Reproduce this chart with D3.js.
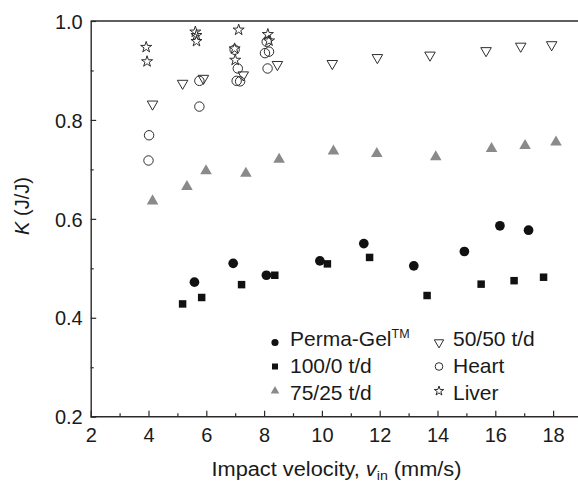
<!DOCTYPE html>
<html>
<head>
<meta charset="utf-8">
<script src="https://cdn.jsdelivr.net/npm/d3@7"></script>
<style>
  html, body { margin: 0; padding: 0; background: #fff; }
  svg { display: block; }
  text { font-family: Arial, "Liberation Sans", Helvetica, sans-serif; fill: #1a1a1a; }
</style>
</head>
<body>
<svg id="chart" width="578" height="483"></svg>
<script>
// ---------- data ----------
const permaX = [5.59, 6.93, 8.08, 9.93, 11.45, 13.18, 14.93, 16.16, 17.15];
const permaK = [0.472, 0.510, 0.486, 0.515, 0.550, 0.505, 0.534, 0.586, 0.577];

const d100X = [5.18, 5.84, 7.22, 8.37, 10.19, 11.65, 13.64, 15.51, 16.65, 17.67];
const d100K = [0.428, 0.441, 0.467, 0.486, 0.509, 0.522, 0.445, 0.468, 0.475, 0.482];

const d7525X = [4.14, 5.33, 5.99, 7.37, 8.52, 10.40, 11.90, 13.94, 15.87, 17.03, 18.10];
const d7525K = [0.636, 0.665, 0.697, 0.692, 0.720, 0.737, 0.732, 0.725, 0.742, 0.748, 0.755];

const d5050X = [4.14, 5.18, 5.90, 7.28, 8.46, 10.36, 11.92, 13.74, 15.68, 16.88, 17.95];
const d5050K = [0.832, 0.874, 0.884, 0.891, 0.912, 0.914, 0.926, 0.931, 0.940, 0.949, 0.952];

const heartX = [4.02, 4.00, 5.76, 5.76, 7.09, 7.05, 7.17, 6.98, 8.03, 8.17, 8.12, 8.09];
const heartK = [0.769, 0.718, 0.879, 0.827, 0.904, 0.879, 0.878, 0.942, 0.935, 0.938, 0.904, 0.958];

const liverX = [3.92, 3.95, 5.62, 5.66, 5.66, 7.12, 6.98, 7.00, 8.13, 8.17];
const liverK = [0.947, 0.918, 0.978, 0.971, 0.959, 0.982, 0.944, 0.921, 0.973, 0.960];

const xMajorTicks = [2, 4, 6, 8, 10, 12, 14, 16, 18];
const xMinorTicks = [3, 5, 7, 9, 11, 13, 15, 17, 19];
const yMajorTicks = [0.2, 0.4, 0.6, 0.8, 1.0];
const yMinorTicks = [0.3, 0.5, 0.7, 0.9];

// ---------- layout ----------
const svg = d3.select("#chart");
const mLeft = 90.7, mRight = 582, mTop = 21, mBottom = 416.7;
const x = d3.scaleLinear().domain([2, 19]).range([mLeft, mRight]);
const y = d3.scaleLinear().domain([0.2, 1.0]).range([mBottom, mTop]);
const axisColor = "#2a2a2a";

// top frame line (right edge falls outside the picture)
svg.append("line").attr("x1", mLeft).attr("x2", 600).attr("y1", mTop).attr("y2", mTop)
  .attr("stroke", axisColor).attr("stroke-width", 1.4);

const xAxisMajor = d3.axisBottom(x).tickValues(xMajorTicks).tickSizeInner(-6).tickSizeOuter(0)
  .tickPadding(11).tickFormat(d3.format("d"));
const xAxisMinor = d3.axisBottom(x).tickValues(xMinorTicks).tickSizeInner(-3.5).tickSizeOuter(0).tickFormat("");
const yAxisMajor = d3.axisLeft(y).tickValues(yMajorTicks).tickSizeInner(-5.5).tickSizeOuter(0)
  .tickPadding(8).tickFormat(d3.format(".1f"));
const yAxisMinor = d3.axisLeft(y).tickValues(yMinorTicks).tickSizeInner(-3).tickSizeOuter(0).tickFormat("");

function styleAxis(g) {
  g.select(".domain").attr("stroke", axisColor).attr("stroke-width", 1.4);
  g.selectAll(".tick line").attr("stroke", axisColor).attr("stroke-width", 1.2);
  g.selectAll(".tick text").attr("font-size", 20).attr("fill", "#1a1a1a")
    .attr("font-family", "Arial, 'Liberation Sans', sans-serif");
}

const gxMin = svg.append("g").attr("transform", `translate(0,${mBottom})`).call(xAxisMinor);
styleAxis(gxMin);
gxMin.select(".domain").remove();
const gx = svg.append("g").attr("transform", `translate(0,${mBottom})`).call(xAxisMajor);
styleAxis(gx);
gx.select(".domain").attr("d", `M${mLeft},0H600`);

const gyMin = svg.append("g").attr("transform", `translate(${mLeft},0)`).call(yAxisMinor);
styleAxis(gyMin);
gyMin.select(".domain").remove();
const gy = svg.append("g").attr("transform", `translate(${mLeft},0)`).call(yAxisMajor);
styleAxis(gy);
gy.selectAll(".tick text").attr("dy", "0.36em");

// axis titles
const xt = svg.append("text").attr("x", 336.5).attr("y", 476).attr("text-anchor", "middle")
  .attr("font-size", 20).attr("textLength", 250).attr("lengthAdjust", "spacingAndGlyphs");
xt.append("tspan").text("Impact velocity, ");
xt.append("tspan").attr("font-style", "italic").text("v");
xt.append("tspan").attr("font-size", 13).attr("dy", 3.5).text("in");
xt.append("tspan").attr("dy", -3.5).text(" (mm/s)");

const yt = svg.append("text").attr("transform", "translate(29,206) rotate(-90)")
  .attr("text-anchor", "middle").attr("font-size", 20);
yt.append("tspan").attr("font-style", "italic").text("K");
yt.append("tspan").text(" (J/J)");

// ---------- markers ----------
const plot = svg.append("g");
const black = "#111", gray = "#8a8a8a", openStroke = "#2e2e2e";

function zip(xs, ks) { return xs.map((v, i) => ({ x: v, k: ks[i] })); }

function drawSeries(data, type, size, fill, stroke, rotate) {
  plot.selectAll(null).data(data).enter().append("path")
    .attr("d", d3.symbol().type(type).size(size)())
    .attr("transform", d => `translate(${x(d.x)},${y(d.k)})` + (rotate ? " rotate(180)" : ""))
    .attr("fill", fill)
    .attr("stroke", stroke)
    .attr("stroke-width", stroke === "none" ? 0 : 1);
}

drawSeries(zip(d5050X, d5050K), d3.symbolTriangle, 48, "none", openStroke, true);
drawSeries(zip(heartX, heartK), d3.symbolCircle, 70, "none", openStroke, false);
drawSeries(zip(liverX, liverK), d3.symbolStar, 38, "none", openStroke, false);
drawSeries(zip(d7525X, d7525K), d3.symbolTriangle, 58, gray, "none", false);
drawSeries(zip(d100X, d100K), d3.symbolSquare, 56, black, "none", false);
drawSeries(zip(permaX, permaK), d3.symbolCircle, 74, black, "none", false);

// ---------- legend ----------
const legendItems = [
  { label: "Perma-Gel", sup: "TM", type: d3.symbolCircle, size: 40, fill: black, stroke: "none", rot: false, col: 0, row: 0 },
  { label: "100/0 t/d", type: d3.symbolSquare, size: 36, fill: black, stroke: "none", rot: false, col: 0, row: 1 },
  { label: "75/25 t/d", type: d3.symbolTriangle, size: 32, fill: gray, stroke: "none", rot: false, col: 0, row: 2 },
  { label: "50/50 t/d", type: d3.symbolTriangle, size: 38, fill: "none", stroke: openStroke, rot: true, col: 1, row: 0 },
  { label: "Heart", type: d3.symbolCircle, size: 46, fill: "none", stroke: openStroke, rot: false, col: 1, row: 1 },
  { label: "Liver", type: d3.symbolStar, size: 28, fill: "none", stroke: openStroke, rot: false, col: 1, row: 2 }
];
const colMarkerX = [275, 439];
const colTextX = [290, 453];
const rowMarkerY = [342.5, 366.5, 391];
const rowTextY = [345.7, 373.3, 400];

const lg = svg.append("g");
legendItems.forEach(it => {
  lg.append("path")
    .attr("d", d3.symbol().type(it.type).size(it.size)())
    .attr("transform", `translate(${colMarkerX[it.col]},${rowMarkerY[it.row]})` + (it.rot ? " rotate(180)" : ""))
    .attr("fill", it.fill).attr("stroke", it.stroke).attr("stroke-width", it.stroke === "none" ? 0 : 1);
  const t = lg.append("text").attr("x", colTextX[it.col]).attr("y", rowTextY[it.row])
    .attr("font-size", 21);
  t.append("tspan").text(it.label);
  if (it.sup) t.append("tspan").attr("font-size", 12.5).attr("dy", -8).text(it.sup);
});
</script>
</body>
</html>
